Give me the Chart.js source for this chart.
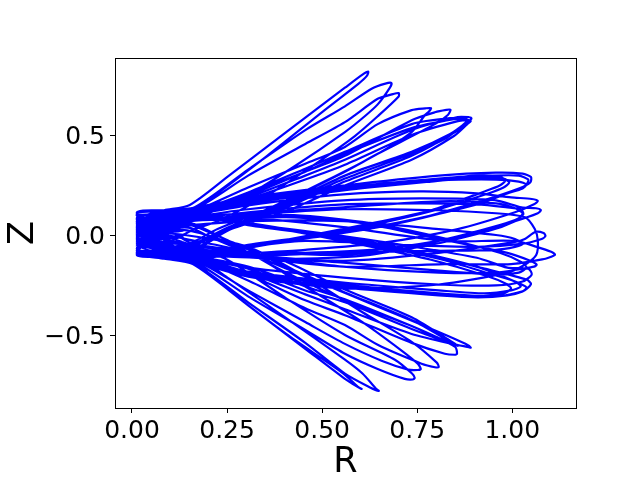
<!DOCTYPE html>
<html>
<head>
<meta charset="utf-8">
<script src="https://cdn.jsdelivr.net/npm/chart.js@4"></script>
<style>
  html, body { margin: 0; padding: 0; background: #fff; }
  canvas { display: block; }
</style>
</head>
<body>
<canvas id="chart" width="640" height="480"></canvas>
<script>
// Trajectory, one lobe per line
const rValues = [
  .008,.08,.147,.25,.40,.554,.60,.615,.612,.59,.50,.35,.22,.15,.08,
  .008,.08,.16,.30,.45,.554,.624,.66,.676,.672,.64,.606,.554,.42,.28,.16,.08,
  .008,.08,.165,.30,.45,.554,.64,.68,.695,.695,.64,.58,.50,.35,.22,.16,.08,
  .008,.08,.17,.30,.45,.554,.64,.729,.765,.78,.775,.764,.729,.64,.50,.35,.22,.15,.08,
  .008,.08,.17,.30,.45,.554,.729,.79,.82,.831,.824,.79,.64,.554,.40,.25,.15,.08,
  .008,.08,.17,.30,.45,.554,.729,.85,.88,.886,.882,.843,.729,.554,.40,.25,.15,.08,
  .008,.08,.17,.30,.45,.554,.729,.84,.868,.876,.87,.83,.729,.554,.40,.25,.15,.08,
  .008,.08,.17,.30,.45,.554,.729,.85,.878,.884,.875,.84,.729,.554,.40,.25,.15,.08,
  .008,.08,.17,.30,.45,.554,.729,.83,.862,.872,.866,.82,.729,.554,.40,.25,.15,.08,
  .008,.08,.15,.30,.55,.80,.95,1.02,1.042,1.04,1.01,.92,.74,.55,.30,.15,.08,
  .008,.08,.15,.30,.55,.80,.94,1.01,1.035,1.03,1.0,.90,.72,.55,.30,.15,.08,
  .008,.08,.15,.30,.55,.78,.90,.97,.985,.97,.93,.80,.60,.40,.25,.15,.08,
  .008,.08,.15,.30,.55,.80,.95,1.01,1.03,1.02,.98,.90,.70,.50,.30,.15,.08,
  .008,.08,.15,.30,.55,.78,.90,.96,.975,.96,.92,.78,.60,.40,.25,.15,.08,
  .008,.08,.15,.30,.55,.75,.90,.99,1.044,1.06,1.05,1.0,.85,.65,.45,.25,.15,.08,
  .008,.08,.15,.30,.55,.75,.947,1.017,1.055,1.068,1.06,1.0,.85,.65,.45,.25,.15,.08,
  .008,.08,.15,.30,.55,.75,.90,.98,1.015,1.022,1.0,.93,.75,.55,.35,.20,.15,.08,
  .008,.08,.15,.30,.55,.80,.95,1.0,1.02,1.01,.96,.80,.62,.42,.25,.15,.08,
  .008,.08,.15,.30,.55,.80,.95,1.026,1.052,1.06,1.056,1.03,.98,.80,.55,.30,.15,.08,
  .008,.08,.15,.30,.55,.80,1.0,1.026,1.053,1.075,1.08,1.07,1.017,.90,.70,.45,.30,.25,.15,.08,
  .008,.08,.15,.30,.55,.80,.95,1.0,1.02,1.0,.95,.80,.60,.40,.25,.15,.08,
  .008,.08,.15,.30,.55,.816,1.0,1.057,1.095,1.105,1.095,1.08,.99,.816,.55,.30,.15,.08,
  .008,.08,.15,.30,.55,.80,.95,1.02,1.05,1.057,1.04,.98,.80,.60,.40,.25,.15,.08,
  .008,.08,.15,.30,.55,.80,.95,1.01,1.03,1.02,.96,.80,.62,.42,.25,.15,.08,
  .008,.08,.15,.30,.55,.80,.95,1.02,1.044,1.035,.98,.90,.72,.55,.30,.15,.08,
  .008,.08,.15,.30,.55,.80,.95,1.02,1.042,1.03,.92,.74,.55,.30,.15,.08,
  .008,.08,.15,.30,.55,.80,.903,.98,1.02,1.03,1.0,.90,.72,.55,.30,.15,.08,
  .008,.08,.15,.30,.55,.80,.92,.99,1.015,1.0,.95,.80,.60,.40,.25,.15,.08,
  .008,.08,.15,.30,.55,.78,.90,.97,.99,.975,.93,.78,.60,.40,.25,.15,.08,
  .008,.08,.155,.30,.45,.554,.585,.598,.59,.55,.40,.25,.15,.08,
  .008,.08,.155,.30,.45,.554,.62,.643,.635,.60,.554,.40,.25,.15,.08,
  .008,.08,.16,.30,.45,.554,.64,.711,.732,.737,.73,.685,.554,.40,.25,.15,.08,
  .008,.08,.165,.30,.45,.554,.65,.72,.745,.753,.745,.70,.60,.45,.30,.16,.08,
  .008,.08,.17,.30,.45,.554,.64,.755,.79,.80,.795,.729,.60,.45,.30,.17,.08,
  .008,.08,.17,.30,.45,.554,.729,.816,.842,.848,.843,.729,.554,.40,.25,.15,.08,
  .008,.08,.17,.30,.45,.554,.729,.85,.875,.884,.87,.80,.65,.50,.35,.20,.15,.08,
  .008,.08,.17,.30,.45,.554,.729,.82,.845,.85,.84,.729,.554,.40,.25,.15,.08,
  .008,.08,.17,.30,.45,.554,.729,.80,.84,.846,.835,.729,.554,.40,.25,.15,.08,
  // turnarounds in the dense block on the left
  .008,.13,.008,.13,.008,.13,.008,.13,.008,.13,.008,.13,.008,.13,.008,.13
];
const zValues = [
  .09,.125,.152,.30,.52,.744,.81,.825,.805,.765,.63,.40,.21,.11,.02,
  .07,.115,.14,.33,.53,.65,.739,.765,.768,.745,.66,.60,.52,.345,.18,.08,.0,
  .05,.10,.135,.30,.46,.57,.688,.712,.717,.70,.60,.50,.39,.20,.07,.03,-.04,
  .02,.09,.13,.24,.36,.445,.56,.631,.64,.641,.625,.606,.52,.41,.27,.13,.03,-.04,-.07,
  .0,.08,.125,.21,.32,.40,.58,.62,.632,.633,.606,.56,.41,.32,.17,.03,-.06,-.08,
  -.02,.06,.12,.19,.30,.38,.53,.596,.595,.59,.58,.52,.40,.27,.14,.03,-.08,-.09,
  .03,.08,.12,.20,.32,.41,.54,.585,.587,.58,.565,.51,.42,.30,.16,.04,-.05,-.075,
  -.04,.05,.11,.18,.28,.355,.505,.575,.58,.575,.56,.50,.38,.25,.12,.025,-.09,-.10,
  .04,.085,.125,.215,.335,.42,.56,.59,.585,.575,.56,.49,.41,.285,.15,.035,-.06,-.08,
  .112,.125,.135,.19,.25,.30,.315,.31,.293,.265,.235,.177,.08,.015,-.05,-.11,-.10,
  .085,.11,.12,.175,.24,.285,.30,.30,.28,.255,.225,.16,.07,.01,-.055,-.12,-.095,
  .07,.10,.11,.16,.225,.27,.29,.285,.265,.24,.21,.13,.04,-.03,-.08,-.09,-.08,
  .06,.095,.115,.17,.235,.275,.28,.27,.255,.235,.21,.155,.065,-.005,-.055,-.10,-.07,
  .105,.12,.125,.18,.24,.28,.30,.295,.275,.25,.22,.125,.05,-.025,-.075,-.10,-.085,
  .04,.08,.10,.15,.205,.22,.21,.19,.182,.172,.155,.115,.03,-.04,-.075,-.10,-.125,-.09,
  .02,.07,.09,.13,.175,.185,.176,.14,.135,.126,.11,.07,-.01,-.07,-.09,-.09,-.11,-.085,
  .0,.06,.08,.115,.155,.16,.155,.14,.13,.105,.07,.02,-.06,-.10,-.09,-.08,-.10,-.07,
  .03,.07,.09,.11,.14,.17,.16,.135,.11,.085,.05,-.03,-.10,-.12,-.11,-.10,-.07,
  -.01,.05,.07,.10,.13,.125,.11,.09,.03,-.03,-.10,-.145,-.19,-.25,-.27,-.21,-.13,-.09,
  -.03,-.04,-.05,-.10,-.13,-.09,-.035,-.02,.015,.01,-.005,-.02,-.045,-.06,-.05,-.03,-.06,-.07,-.04,.03,
  .01,.04,.05,.07,.07,.03,.0,-.02,-.045,-.06,-.075,-.08,-.085,-.10,-.10,-.09,-.05,
  .02,.06,.08,.085,.04,-.03,-.03,-.06,-.085,-.10,-.11,-.12,-.147,-.147,-.16,-.11,-.06,-.02,
  -.02,-.05,-.07,-.10,-.16,-.19,-.19,-.17,-.16,-.15,-.13,-.09,-.02,.06,.09,.08,.07,.04,
  -.04,-.06,-.08,-.11,-.14,-.18,-.20,-.19,-.165,-.14,-.09,-.01,.06,.10,.09,.08,.05,
  -.07,-.09,-.11,-.165,-.215,-.25,-.255,-.235,-.20,-.17,-.165,-.115,-.055,-.005,.055,.09,.06,
  -.10,-.11,-.125,-.19,-.25,-.295,-.31,-.285,-.248,-.225,-.17,-.085,-.015,.05,.11,.09,
  -.09,-.105,-.13,-.205,-.265,-.305,-.315,-.305,-.285,-.265,-.235,-.16,-.075,-.012,.055,.12,.08,
  -.08,-.10,-.12,-.185,-.24,-.28,-.295,-.28,-.26,-.235,-.205,-.12,-.04,.03,.075,.10,.07,
  -.095,-.11,-.125,-.195,-.255,-.30,-.31,-.295,-.27,-.245,-.21,-.125,-.05,.025,.07,.10,.08,
  -.09,-.12,-.147,-.355,-.575,-.727,-.765,-.778,-.77,-.70,-.50,-.28,-.12,-.04,
  -.07,-.11,-.14,-.34,-.545,-.70,-.77,-.788,-.775,-.70,-.63,-.42,-.22,-.09,-.02,
  -.05,-.10,-.135,-.31,-.48,-.60,-.677,-.727,-.73,-.722,-.70,-.63,-.505,-.32,-.13,-.05,-.01,
  -.03,-.09,-.13,-.28,-.44,-.55,-.635,-.68,-.682,-.677,-.65,-.58,-.44,-.26,-.09,-.03,.0,
  -.01,-.08,-.125,-.23,-.37,-.455,-.555,-.65,-.668,-.667,-.645,-.54,-.39,-.21,-.06,-.01,.01,
  .01,-.07,-.12,-.20,-.33,-.405,-.545,-.60,-.605,-.60,-.565,-.46,-.33,-.19,-.04,.02,.03,
  .03,-.06,-.115,-.19,-.30,-.375,-.50,-.556,-.565,-.569,-.55,-.49,-.37,-.25,-.13,-.01,.035,.04,
  .05,-.05,-.11,-.17,-.28,-.34,-.475,-.54,-.555,-.56,-.55,-.43,-.29,-.16,-.03,.05,.055,
  .06,-.04,-.105,-.16,-.26,-.325,-.46,-.52,-.55,-.555,-.54,-.415,-.275,-.135,-.03,.06,.06,
  // turnarounds in the dense block on the left
  .10,.10,.06,.055,.03,.02,.0,-.01,-.03,-.035,-.06,-.06,-.09,-.10,.08,.075
];
const rTicks = [0, 0.25, 0.5, 0.75, 1];
const zTicks = [-0.5, 0, 0.5];

// The readings above were taken against a rough pixel grid, these fix them to the real ticks
const rGain = 1.0026, rShift = 0.0045;
const zGain = 0.9925, zShift = 0.0025;
const points = rValues.map((r, i) => ({ x: r * rGain + rShift, y: zValues[i] * zGain + zShift }));

// Top and right edges of the frame
const framePlugin = {
  id: 'frame',
  afterDraw(chart) {
    const { ctx, chartArea: a } = chart;
    ctx.save();
    ctx.strokeStyle = '#000';
    ctx.lineWidth = 1;
    ctx.strokeRect(a.left + 0.5, a.top + 0.5, a.right - a.left, a.bottom - a.top);
    ctx.restore();
  }
};

const tickFont = { family: 'DejaVu Sans', size: 25 };
const titleFont = { family: 'DejaVu Sans', size: 35 };

new Chart(document.getElementById('chart'), {
  type: 'scatter',
  data: {
    datasets: [{
      data: points,
      showLine: true,
      borderColor: '#0000ff',
      borderWidth: 2.2,
      tension: 0.25,
      pointRadius: 0,
      fill: false
    }]
  },
  options: {
    responsive: false,
    animation: false,
    layout: { padding: { top: 58, right: 64, left: 0, bottom: 0 } },
    plugins: { legend: { display: false }, tooltip: { enabled: false } },
    scales: {
      x: {
        type: 'linear',
        min: -0.0447,
        max: 1.1676,
        afterBuildTicks: axis => { axis.ticks = rTicks.map(v => ({ value: v })); },
        afterFit: axis => { axis.height = 72; },
        grid: { drawOnChartArea: false, tickLength: 5, tickColor: '#000' },
        border: { color: '#000' },
        ticks: {
          color: '#000',
          font: tickFont,
          padding: 3,
          maxRotation: 0,
          callback: v => v.toFixed(2)
        },
        title: { display: true, text: 'R', color: '#000', font: titleFont, padding: { top: 0, bottom: -4 } }
      },
      y: {
        type: 'linear',
        min: -0.865,
        max: 0.89,
        afterBuildTicks: axis => { axis.ticks = zTicks.map(v => ({ value: v })); },
        afterFit: axis => { axis.width = 115; },
        grid: { drawOnChartArea: false, tickLength: 5, tickColor: '#000' },
        border: { color: '#000' },
        ticks: {
          color: '#000',
          font: tickFont,
          padding: 5,
          labelOffset: 2,
          callback: v => (v < 0 ? '\u2212' : '') + Math.abs(v).toFixed(1)
        },
        title: { display: true, text: 'Z', color: '#000', font: titleFont, padding: { top: 3, bottom: 3 } }
      }
    }
  },
  plugins: [framePlugin]
});
</script>
</body>
</html>
